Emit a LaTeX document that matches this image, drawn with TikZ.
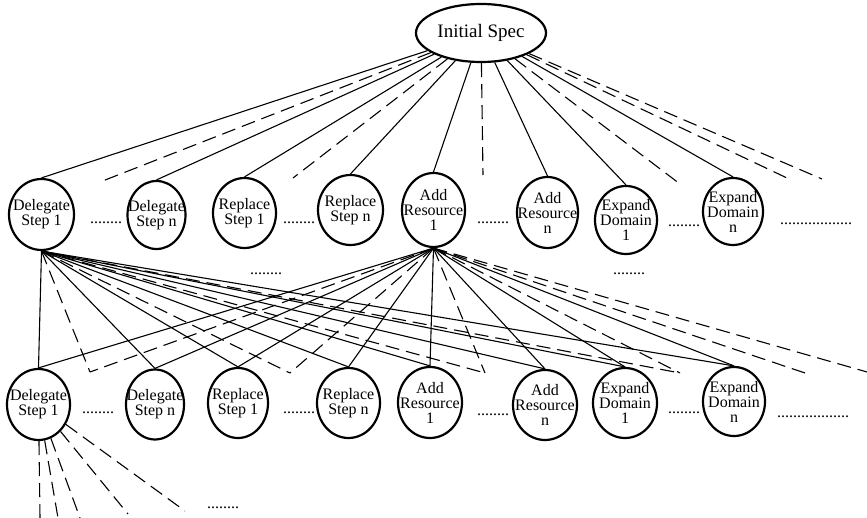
\documentclass[tikz,border=0pt]{standalone}
\usepackage{fontspec}
\setmainfont{Liberation Serif}
\usetikzlibrary{shapes.geometric}
\begin{document}
\begin{tikzpicture}[x=1pt,y=-1pt,
  circ/.style={draw, ellipse, line width=2.2pt, inner sep=0pt},
  lbl/.style={align=center, inner sep=0pt, font=\fontsize{16}{15}\selectfont},
  conn/.style={line width=1.1pt},
  dsh/.style={line width=1.1pt, dash pattern=on 14pt off 7pt},
  dots/.style={anchor=base west, inner sep=0pt, font=\fontsize{16}{15}\selectfont}]
\useasboundingbox (0,0) rectangle (867,518);

% top
\node[circ, minimum width=130, minimum height=58] (top) at (481,33) {};
\node[lbl, font=\fontsize{19}{20}\selectfont] (topt) at (top.center) {Initial Spec};

% level 1
\node[circ, minimum width=65, minimum height=71] (a1) at (41.5,214.5) {};
\node[circ, minimum width=58, minimum height=68] (a2) at (156.5,215) {};
\node[circ, minimum width=63, minimum height=70] (a3) at (244.5,213) {};
\node[circ, minimum width=65, minimum height=70] (a4) at (350.5,210) {};
\node[circ, minimum width=63, minimum height=74] (a5) at (433.5,210) {};
\node[circ, minimum width=61, minimum height=71] (a6) at (547.5,212.5) {};
\node[circ, minimum width=62, minimum height=68] (a7) at (626,220) {};
\node[circ, minimum width=60, minimum height=67] (a8) at (733,211.5) {};
\node[lbl] (a1t) at (a1.center) {Delegate\\Step 1};
\node[lbl] (a2t) at (a2.center) {Delegate\\Step n};
\node[lbl] (a3t) at (a3.center) {Replace\\Step 1};
\node[lbl] (a4t) at (a4.center) {Replace\\Step n};
\node[lbl] (a5t) at (a5.center) {Add\\Resource\\1};
\node[lbl] (a6t) at (a6.center) {Add\\Resource\\n};
\node[lbl] (a7t) at (a7.center) {Expand\\Domain\\1};
\node[lbl] (a8t) at (a8.center) {Expand\\Domain\\n};

% level 2
\node[circ, minimum width=63, minimum height=71] (b1) at (38.5,404.5) {};
\node[circ, minimum width=58, minimum height=70] (b2) at (155,404.5) {};
\node[circ, minimum width=60, minimum height=70] (b3) at (238,403) {};
\node[circ, minimum width=63, minimum height=70] (b4) at (348.5,403) {};
\node[circ, minimum width=64, minimum height=71] (b5) at (430,402.5) {};
\node[circ, minimum width=64, minimum height=70] (b6) at (545,405) {};
\node[circ, minimum width=64, minimum height=70] (b7) at (625,403) {};
\node[circ, minimum width=62, minimum height=69] (b8) at (734,401.5) {};
\node[lbl] (b1t) at (b1.center) {Delegate\\Step 1};
\node[lbl] (b2t) at (b2.center) {Delegate\\Step n};
\node[lbl] (b3t) at (b3.center) {Replace\\Step 1};
\node[lbl] (b4t) at (b4.center) {Replace\\Step n};
\node[lbl] (b5t) at (b5.center) {Add\\Resource\\1};
\node[lbl] (b6t) at (b6.center) {Add\\Resource\\n};
\node[lbl] (b7t) at (b7.center) {Expand\\Domain\\1};
\node[lbl] (b8t) at (b8.center) {Expand\\Domain\\n};

% free ends
\coordinate (t1) at (100,182);
\coordinate (t2) at (293,178);
\coordinate (t3) at (483,175);
\coordinate (t4) at (680,184);
\coordinate (t5) at (787,178);
\coordinate (t6) at (822,179);
\coordinate (m1) at (90,372);
\coordinate (m2) at (290,373);
\coordinate (m3) at (485,373);
\coordinate (m4) at (680,373);
\coordinate (m5) at (808,374);
\coordinate (m6) at (867,372);
\coordinate (g1) at (40,518);
\coordinate (g2) at (58,518);
\coordinate (g3) at (80,518);
\coordinate (g4) at (128,514);
\coordinate (g5) at (185,511);

% top fan
\foreach \n in {a1,a2,a3,a4,a5,a6,a7,a8} \draw[conn] (top) -- (\n.north);
\foreach \n in {t1,t2,t3,t4,t5,t6} \draw[dsh] (top) -- (\n);

% fan from Delegate Step 1
\foreach \n in {b1,b2,b3,b4,b5,b6,b7,b8} \draw[conn] (a1.south) -- (\n.north);
\foreach \n in {m1,m2,m3,m4} \draw[dsh] (a1.south) -- (\n);

% fan from Add Resource 1
\foreach \n in {b1,b2,b3,b4,b5,b6,b7,b8} \draw[conn] (a5.south) -- (\n.north);
\foreach \n in {m1,m2,m3,m4,m5,m6} \draw[dsh] (a5.south) -- (\n);

% bottom fan
\foreach \n in {g1,g2,g3,g4,g5} \draw[dsh] (b1) -- (\n);

% dots
\node[dots] (d1) at (90,224) {........};
\node[dots] (d2) at (283,224) {........};
\node[dots] (d3) at (477,224) {........};
\node[dots] (d4) at (668,227) {........};
\node[dots] (d5) at (780,225) {..................};
\node[dots] (d6) at (250,275) {........};
\node[dots] (d7) at (613,275) {........};
\node[dots] (d8) at (82,413) {........};
\node[dots] (d9) at (283,413) {........};
\node[dots] (d10) at (477,415) {........};
\node[dots] (d11) at (668,413) {........};
\node[dots] (d12) at (777,417) {..................};
\node[dots] (d13) at (207,508) {........};
\end{tikzpicture}
\end{document}
